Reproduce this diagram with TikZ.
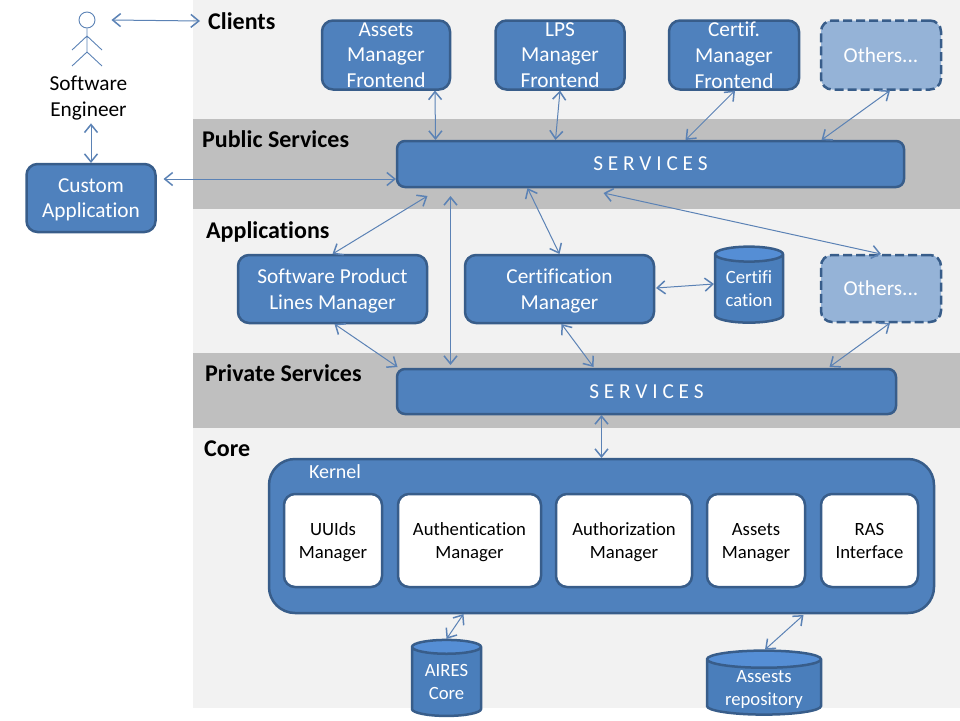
\documentclass[tikz,border=0pt]{standalone}
\usepackage{fontspec}
\setmainfont[Ligatures=NoCommon]{Carlito}
\usetikzlibrary{arrows.meta,shapes.geometric}
\definecolor{bandlight}{HTML}{F2F2F2}
\definecolor{banddark}{HTML}{BFBFBF}
\definecolor{boxfill}{HTML}{4F81BD}
\definecolor{boxline}{HTML}{385D8A}
\definecolor{softfill}{HTML}{95B3D7}
\definecolor{diskfill}{HTML}{4A7EBB}
\definecolor{disktop}{HTML}{558ED5}
\definecolor{linkline}{HTML}{5B82B5}
\tikzset{
  txt/.style={font=\fontsize{21.3}{25.7}\selectfont,align=center,inner sep=0pt,text depth=-4pt},
  small/.style={font=\fontsize{18.7}{23}\selectfont},
  head/.style={font=\fontsize{24}{28}\selectfont\bfseries,inner sep=0pt,anchor=west},
  box/.style={txt,draw=boxline,line width=2.5pt,fill=boxfill,text=white,rounded corners=11pt,outer sep=0pt},
  softbox/.style={box,fill=softfill,dash pattern=on 9pt off 4pt},
  whitebox/.style={box,small,fill=white,text=black},
  disk/.style={txt,small,cylinder,shape border rotate=90,draw=boxline,line width=2.5pt,text=white,
    cylinder uses custom fill,cylinder body fill=diskfill,cylinder end fill=disktop,outer sep=0pt},
  link/.style={<->,>={Straight Barb[length=8pt,width=13pt,line width=1.5pt]},draw=linkline,line width=1pt},
  stick/.style={draw=linkline,line width=0.9pt}
}
\begin{document}
\begin{tikzpicture}[x=1pt,y=-1pt]
  \useasboundingbox (0,0) rectangle (960,720);
  \fill [bandlight] (193,0) rectangle (960,708);
  \fill [banddark] (193,119) rectangle (960,209);
  \fill [banddark] (193,353) rectangle (960,428);
  % actor
  \node (Head) [circle,stick,minimum size=16pt,inner sep=0pt] at (87,20) {};
  \draw [stick] (Head.south) -- (87,52) -- (72,66) (87,52) -- (102,66) (72,50) -- (87,36) -- (102,50);
  \node (Eng) [txt] at (88.5,96) {Software\\Engineer};
  % layer names
  \node (Cli) [head] at (208,21) {Clients};
  \node (Pub) [head] at (202,139) {Public Services};
  \node (App) [head] at (206,232) {Applications};
  \node (Pri) [head] at (205,373) {Private Services};
  \node (Cor) [head] at (204,449) {Core};
  % clients
  \node (Cl_0) [box,minimum width=128pt,minimum height=69pt] at (386,55) {Assets\\Manager\\Frontend};
  \node (Cl_1) [box,minimum width=129pt,minimum height=69pt] at (560,55) {LPS\\Manager\\Frontend};
  \node (Cl_2) [box,minimum width=130pt,minimum height=69pt] at (734,55) {Certif.\\Manager\\Frontend};
  \node (Cl_3) [softbox,minimum width=120pt,minimum height=69pt] at (881,55) {Others...};
  \node (Cust) [box,minimum width=129pt,minimum height=68pt] at (91,198) {Custom\\Application};
  % services
  \node (Srv_0) [box,minimum width=507pt,minimum height=46pt,rounded corners=8pt] at (650.5,164) {S E R V I C E S};
  \node (Srv_1) [box,minimum width=499pt,minimum height=45pt,rounded corners=8pt] at (646.5,391.5) {S E R V I C E S};
  % applications
  \node (Ap_0) [box,minimum width=189pt,minimum height=68pt] at (332.5,289) {Software Product\\Lines Manager};
  \node (Ap_1) [box,minimum width=189pt,minimum height=68pt] at (559.5,289) {Certification\\Manager};
  \node (Ap_2) [softbox,minimum width=120pt,minimum height=67pt] at (881,288.5) {Others...};
  \node (Db_0) [disk,minimum width=68pt,minimum height=76pt,aspect=0.32] at (749,289) {Certifi\\cation};
  % core
  \node (Ker) [box,minimum width=665pt,minimum height=154pt,rounded corners=26pt] at (601.5,536) {};
  \node (KerT) [txt,small,font=\fontsize{20}{23}\selectfont,text=white] at (335,471.5) {Kernel};
  \node (Ke_0) [whitebox,minimum width=98pt,minimum height=93pt] at (333,540.5) {UUIds\\Manager};
  \node (Ke_1) [whitebox,minimum width=143pt,minimum height=93pt] at (469.5,540.5) {Authentication\\Manager};
  \node (Ke_2) [whitebox,minimum width=136pt,minimum height=93pt] at (624,540.5) {Authorization\\Manager};
  \node (Ke_3) [whitebox,minimum width=98pt,minimum height=93pt] at (756,540.5) {Assets\\Manager};
  \node (Ke_4) [whitebox,minimum width=97pt,minimum height=93pt] at (869.5,540.5) {RAS\\Interface};
  \node (Db_1) [disk,minimum width=69pt,minimum height=76pt,aspect=0.32] at (446.5,682) {AIRES\\Core};
  \node (Db_2) [disk,minimum width=114pt,minimum height=64pt,aspect=0.22] at (764,687.5) {Assests\\repository};
  % links
  \path ([xshift=16pt]Head.east) edge [link] ([xshift=-8pt]Cli.west);
  \path ([xshift=2.5pt,yshift=-7pt]Eng.south) edge [link] ([yshift=1pt]Cust.north);
  \path ([xshift=8pt,yshift=19pt]Cust.east) edge [link] ([xshift=-1pt,yshift=-15pt]Srv_0.west);
  \path ([xshift=49pt,yshift=-1pt]Cl_0.south) edge [link] ([xshift=-215pt,yshift=1pt]Srv_0.north);
  \path ([yshift=-1pt]Cl_1.south) edge [link] ([xshift=-95pt,yshift=1pt]Srv_0.north);
  \path ([xshift=1pt,yshift=-1pt]Cl_2.south) edge [link] ([xshift=35pt,yshift=1pt]Srv_0.north);
  \path ([xshift=9pt,yshift=-1pt]Cl_3.south) edge [link] ([xshift=171pt,yshift=1pt]Srv_0.north);
  \path ([yshift=1pt]Ap_0.north) edge [link] ([xshift=-223pt,yshift=-9pt]Srv_0.south);
  \path ([xshift=-200pt,yshift=-9pt]Srv_0.south) edge [link] ([xshift=-196pt,yshift=4pt]Srv_1.north);
  \path ([xshift=-123pt,yshift=-1pt]Srv_0.south) edge [link] ([yshift=1pt]Ap_1.north);
  \path ([xshift=-47pt,yshift=-6pt]Srv_0.south) edge [link] ([yshift=1pt]Ap_2.north);
  \path ([xshift=2pt,yshift=1pt]Ap_1.east) edge [link] ([xshift=-1pt,yshift=5pt]Db_0.west);
  \path ([xshift=2pt,yshift=-1pt]Ap_0.south) edge [link] ([xshift=-249pt,yshift=2pt]Srv_1.north);
  \path ([xshift=2pt,yshift=-1pt]Ap_1.south) edge [link] ([xshift=-53pt,yshift=2pt]Srv_1.north);
  \path ([xshift=9pt,yshift=-1pt]Ap_2.south) edge [link] ([xshift=183pt,yshift=2pt]Srv_1.north);
  \path ([xshift=-45pt,yshift=-1pt]Srv_1.south) edge [link] ([yshift=1pt]Ker.north);
  \path ([yshift=1pt]Db_1.north) edge [link] ([xshift=-138pt,yshift=-1pt]Ker.south);
  \path ([xshift=1pt,yshift=1pt]Db_2.north) edge [link] ([xshift=202pt,yshift=-2pt]Ker.south);
\end{tikzpicture}
\end{document}
